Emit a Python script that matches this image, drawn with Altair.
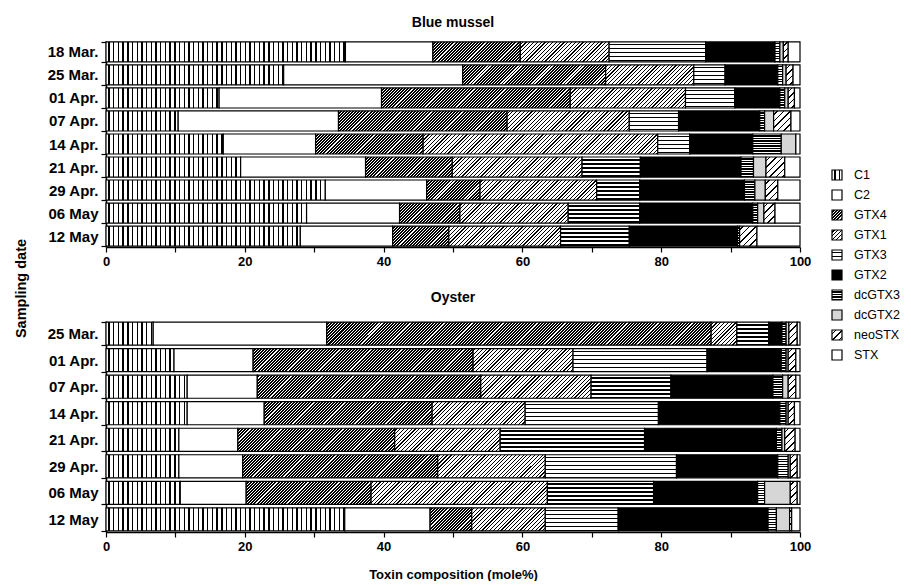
import altair as alt

FONT = "Liberation Sans"
BLACK = "#000000"
WHITE = "#ffffff"

toxins = ["C1", "C2", "GTX4", "GTX1", "GTX3", "GTX2", "dcGTX3", "dcGTX2", "neoSTX", "STX"]

# ---- Blue mussel (mole%) ----
mussel_dates = ["18 Mar.", "25 Mar.", "01 Apr.", "07 Apr.", "14 Apr.", "21 Apr.", "29 Apr.", "06 May", "12 May"]
mussel_c1 = [34.5, 25.6, 16.3, 10.4, 16.9, 19.4, 31.6, 28.9, 28.0]
mussel_c2 = [12.6, 25.8, 23.4, 23.1, 13.3, 18.0, 14.6, 13.4, 13.3]
mussel_gtx4 = [12.6, 20.6, 27.2, 24.3, 15.5, 12.5, 7.7, 8.7, 8.1]
mussel_gtx1 = [12.8, 12.7, 16.6, 17.6, 33.8, 18.7, 16.8, 15.6, 16.1]
mussel_gtx3 = [13.9, 4.5, 7.1, 7.1, 4.6, 8.4, 6.2, 10.3, 9.9]
mussel_gtx2 = [10.0, 7.6, 6.5, 11.7, 9.1, 14.5, 15.1, 16.3, 15.6]
mussel_dcgtx3 = [0.7, 0.7, 0.7, 0.7, 4.1, 1.8, 1.5, 0.7, 0.3]
mussel_dcgtx2 = [0.5, 0.5, 0.5, 1.3, 2.1, 1.8, 1.5, 0.9, 0.0]
mussel_neostx = [0.7, 1.0, 0.9, 2.5, 0.0, 2.7, 1.8, 1.6, 2.5]
mussel_stx = [1.7, 1.0, 0.8, 1.3, 0.6, 2.2, 3.2, 3.6, 6.2]

# ---- Oyster (mole%) ----
oyster_dates = ["25 Mar.", "01 Apr.", "07 Apr.", "14 Apr.", "21 Apr.", "29 Apr.", "06 May", "12 May"]
oyster_c1 = [6.8, 9.8, 11.7, 11.7, 10.5, 10.5, 10.7, 34.4]
oyster_c2 = [25.0, 11.4, 10.1, 11.1, 8.5, 9.2, 9.5, 12.3]
oyster_gtx4 = [55.4, 31.7, 32.2, 24.2, 22.6, 28.1, 18.0, 6.0]
oyster_gtx1 = [3.7, 14.4, 15.9, 13.4, 15.2, 15.5, 25.4, 10.6]
oyster_gtx3 = [4.6, 19.3, 11.5, 19.2, 20.8, 18.9, 15.3, 10.5]
oyster_gtx2 = [1.9, 10.7, 14.7, 17.5, 19.0, 14.6, 15.0, 21.6]
oyster_dcgtx3 = [0.6, 0.7, 1.4, 0.9, 0.8, 1.5, 1.0, 1.2]
oyster_dcgtx2 = [0.4, 0.3, 0.8, 0.3, 0.4, 0.3, 3.7, 1.9]
oyster_neostx = [1.2, 1.1, 1.1, 0.9, 1.5, 1.0, 1.0, 0.3]
oyster_stx = [0.4, 0.6, 0.6, 0.8, 0.7, 0.4, 0.4, 1.2]

mussel_series = [mussel_c1, mussel_c2, mussel_gtx4, mussel_gtx1, mussel_gtx3,
                 mussel_gtx2, mussel_dcgtx3, mussel_dcgtx2, mussel_neostx, mussel_stx]
oyster_series = [oyster_c1, oyster_c2, oyster_gtx4, oyster_gtx1, oyster_gtx3,
                 oyster_gtx2, oyster_dcgtx3, oyster_dcgtx2, oyster_neostx, oyster_stx]

# ---- layout / style ----
PW = 694
TOP_H = 206
BOT_H = 211
PI, PO = 0.13, 0.04


def stripe_stops(length, period, black):
    stops = [{"offset": 0, "color": WHITE}]
    pos = period * 0.5
    while pos < length:
        s = round(pos / length, 4)
        e = round(min(pos + black, length) / length, 4)
        stops += [{"offset": s, "color": WHITE}, {"offset": s, "color": BLACK},
                  {"offset": e, "color": BLACK}, {"offset": e, "color": WHITE}]
        pos += period
    stops.append({"offset": 1, "color": WHITE})
    return stops


def vertical(w, period, black):
    return {"gradient": "linear", "x1": 0, "y1": 0, "x2": 1, "y2": 0,
            "stops": stripe_stops(w, period, black)}


def horizontal(h, period, black):
    return {"gradient": "linear", "x1": 0, "y1": 0, "x2": 0, "y2": 1,
            "stops": stripe_stops(h, period, black)}


def diagonal(w, h, period, black):
    L = w + h
    d = w * w + h * h
    return {"gradient": "linear", "x1": 0, "y1": 0,
            "x2": round(w * L / d, 5), "y2": round(h * L / d, 5),
            "stops": stripe_stops(L, period, black)}


def pattern_fill(toxin, w, h):
    if toxin == "C1":
        return vertical(w, 4.7, 1.4)
    if toxin in ("C2", "STX"):
        return WHITE
    if toxin == "GTX2":
        return BLACK
    if toxin == "dcGTX2":
        return "#d6d6d6"
    if toxin == "GTX3":
        return horizontal(h, 4.0, 1.5)
    if toxin == "dcGTX3":
        return horizontal(h, 2.5, 1.3)
    if toxin == "GTX4":
        return diagonal(w, h, 3.1, 2.0)
    if toxin == "GTX1":
        return diagonal(w, h, 3.8, 1.2)
    return diagonal(w, h, 6.5, 1.5)  # neoSTX


def panel_records(dates, series, H):
    n = len(dates)
    step = H / (n - PI + 2 * PO)
    bh = step * (1 - PI)
    recs = []
    for i, d in enumerate(dates):
        start = 0.0
        for t, s in zip(toxins, series):
            v = s[i]
            if v > 0:
                w = v * PW / 100.0
                recs.append({"date": d, "toxin": t, "start": round(start, 2),
                             "end": round(start + v, 2), "value": v,
                             "grad": pattern_fill(t, w, bh)})
            start += v
    return recs


def x_axis(title):
    kw = dict(values=list(range(0, 101, 10)),
              labelExpr="datum.value % 20 === 0 ? datum.label : ''",
              tickSize=5, tickColor=BLACK, tickWidth=1.2,
              domainColor=BLACK, domainWidth=1.6, grid=False,
              labelFont=FONT, labelFontSize=13, labelFontWeight="bold",
              labelColor=BLACK, labelPadding=3, labelFlush=False)
    if title:
        return alt.Axis(title=title, titleFont=FONT, titleFontSize=13, titleFontWeight="bold",
                        titleColor=BLACK, titlePadding=15, **kw)
    return alt.Axis(title=None, **kw)


def y_axis(show_title):
    kw = dict(tickSize=5, tickColor=BLACK, tickWidth=1.2, tickBand="extent",
              domainColor=BLACK, domainWidth=1.6,
              labelFont=FONT, labelFontSize=15, labelFontWeight="bold",
              labelColor=BLACK, labelPadding=3)
    if show_title:
        return alt.Axis(title="Sampling date", titleFont=FONT, titleFontSize=14.5,
                        titleFontWeight="bold", titleColor=BLACK, titlePadding=19,
                        titleY=247, **kw)
    return alt.Axis(title=None, **kw)


def panel(dates, series, H, name, xtitle, ytitle, toff):
    recs = panel_records(dates, series, H)
    return alt.Chart(alt.Data(values=recs)).mark_bar(
        stroke=BLACK, strokeWidth=1.2
    ).encode(
        x=alt.X("start:Q", scale=alt.Scale(domain=[0, 100], nice=False), axis=x_axis(xtitle)),
        x2="end:Q",
        y=alt.Y("date:N", sort=dates,
                scale=alt.Scale(paddingInner=PI, paddingOuter=PO), axis=y_axis(ytitle)),
        fill=alt.Fill("grad:N", scale=None),
    ).properties(
        width=PW, height=H,
        title=alt.TitleParams(name, font=FONT, fontSize=14, fontWeight="bold",
                              color=BLACK, offset=toff),
    )


top = panel(mussel_dates, mussel_series, TOP_H, "Blue mussel", None, True, 4)
bottom = panel(oyster_dates, oyster_series, BOT_H, "Oyster",
               "Toxin composition (mole%)", False, 9)

# ---- legend ----
LH = 340
STEP_PX = 20.0
D0 = -134 / STEP_PX
D1 = D0 + LH / STEP_PX
leg_recs = []
for i, t in enumerate(toxins):
    leg_recs.append({"toxin": t, "idx": i, "lo": i - 0.25, "hi": i + 0.25,
                     "grad": pattern_fill(t, 10, 10)})
leg_base = alt.Chart(alt.Data(values=leg_recs))
yscale = alt.Scale(domain=[D0, D1], reverse=True, nice=False, zero=False)
leg_box = leg_base.mark_rect(stroke=BLACK, strokeWidth=1.2).encode(
    x=alt.value(0), x2=alt.value(10),
    y=alt.Y("lo:Q", scale=yscale, axis=None), y2="hi:Q",
    fill=alt.Fill("grad:N", scale=None),
)
leg_txt = leg_base.mark_text(align="left", baseline="middle", font=FONT,
                             fontSize=12.5, color=BLACK).encode(
    x=alt.value(22),
    y=alt.Y("idx:Q", scale=yscale, axis=None),
    text="toxin:N",
)
legend = alt.layer(leg_box, leg_txt).properties(width=40, height=LH)

left = alt.VConcatChart(vconcat=[top, bottom], spacing=74, bounds="flush")
chart = alt.HConcatChart(hconcat=[left, legend], spacing=20).properties(
    padding={"left": 5, "top": 8, "right": 0, "bottom": 0}
).configure(background="white").configure_view(stroke=None)

chart.save("out.html", embed_options={"renderer": "svg", "actions": False})
